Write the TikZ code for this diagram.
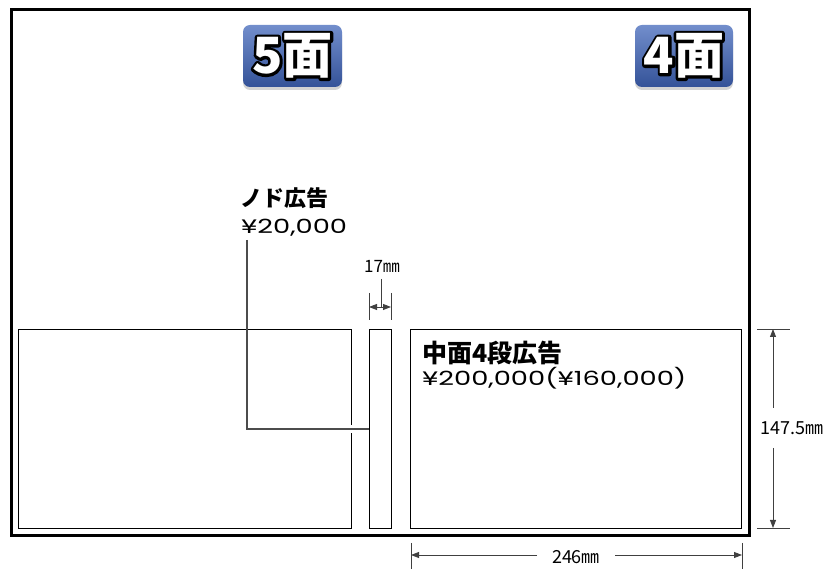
\documentclass[tikz,border=0pt]{standalone}
\usepackage{fontspec}
\setmainfont{Noto Sans CJK JP}
\newfontfamily\pricefont[FakeStretch=1.4]{Poppins}
\usetikzlibrary{arrows.meta,calc,shadows}
\definecolor{badgetop}{RGB}{114,142,204}
\definecolor{badgebot}{RGB}{52,82,152}
\def\pagebadge(#1)(#2)(#3){%
  \node[inner sep=0] (#1-rim) at (#2) {\special{pdf:literal direct 1 Tr 5.5 w 1 j 0 G}\fontsize{50}{50}\selectfont\bfseries #3\special{pdf:literal direct 0 Tr}};
  \node[text=white, inner sep=0] (#1) at (#2) {\fontsize{50}{50}\selectfont\bfseries #3};}

\begin{document}
\begin{tikzpicture}[x=1pt, y=-1pt,
    adbox/.style={draw=black, line width=1.3pt, inner sep=0, anchor=north west},
    leader/.style={draw=black!70, line width=1.3pt},
    dimline/.style={draw=black!75, line width=0.9pt},
    dimtip/.style={dimline, -{Triangle[length=8pt, width=6pt]}},
    badge/.style={rounded corners=7pt, top color=badgetop, bottom color=badgebot,
      drop shadow={shadow xshift=0pt, shadow yshift=-3pt, opacity=0.35}}]
  %%%%% START %%%%%
  \useasboundingbox (0,0) rectangle (831,569);
  \draw[line width=3pt] (11,10) rectangle (749,536);

  % page badges
  \path[badge] (243,25) rectangle (342,87);
  \pagebadge(p5)(292.5,56)(5面)
  \path[badge] (635,25) rectangle (733,87);
  \pagebadge(p4)(684,56)(4面)

  % ad spaces
  \node[adbox, minimum width=333pt, minimum height=199pt] (left) at (18,329) {};
  \node[adbox, minimum width=22pt, minimum height=199pt] (slim) at (369,329) {};
  \node[adbox, minimum width=331pt, minimum height=199pt] (right) at (410,329) {};

  % gutter ad
  \node[anchor=base west, inner sep=0] (gutter) at (240,207) {\fontsize{22}{22}\selectfont\bfseries ノド広告};
  \node[anchor=base west, inner sep=0] (gutterprice) at (241,234) {\fontsize{19.5}{19.5}\selectfont\pricefont ¥20,000};
  \coordinate (lead) at (247,240);
  \draw[white, line width=3.5pt] ($(left.east |- slim.west)+(0,-4)$) -- ++(0,8);
  \draw[leader] (lead) |- (slim.west);

  % middle ad
  \node[anchor=base west, inner sep=0] (mid) at (422,363) {\fontsize{25}{25}\selectfont\bfseries 中面4段広告};
  \node[anchor=base west, inner sep=0] (midprice) at (422,386) {\fontsize{19.5}{19.5}\selectfont\pricefont ¥200,000(¥160,000)};

  % 17mm
  \node (w17) at (382,266) {\fontsize{17}{17}\selectfont 17㎜};
  \draw[dimline] (369,293) -- (369,320);
  \draw[dimline] (391,293) -- (391,320);
  \draw[dimline] (381,279) -- (381,307);
  \draw[dimtip] (381,307) -- (369,307);
  \draw[dimtip] (381,307) -- (391,307);

  % 147.5mm
  \node (h147) at (792,428) {\fontsize{18}{18}\selectfont 147.5㎜};
  \draw[dimline] (757,329) -- (790,329);
  \draw[dimline] (757,528) -- (790,528);
  \draw[dimtip] (773,408) -- (773,329);
  \draw[dimtip] (773,448) -- (773,528);

  % 246mm
  \node (w246) at (576,557) {\fontsize{18}{18}\selectfont 246㎜};
  \draw[dimline] (411,543) -- (411,569);
  \draw[dimline] (742,543) -- (742,569);
  \draw[dimtip] (537,555) -- (411,555);
  \draw[dimtip] (615,555) -- (742,555);
  %%%%% END %%%%%
\end{tikzpicture}
\end{document}
